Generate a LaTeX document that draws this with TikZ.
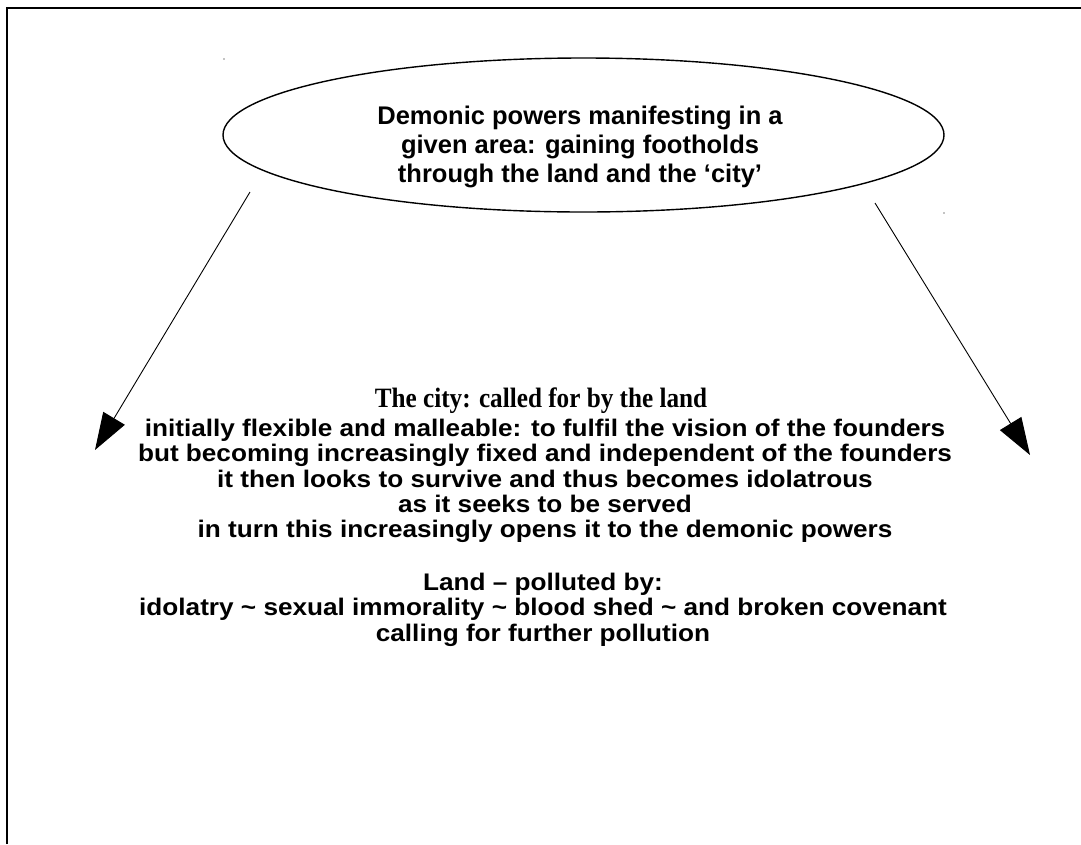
\documentclass[tikz,border=0pt]{standalone}
\usepackage{fontspec}
\setmainfont{Liberation Sans}
\newfontfamily\serifbold[FakeStretch=0.9]{Liberation Serif}
\newfontfamily\widesans[FakeStretch=1.09]{Liberation Sans}
\usetikzlibrary{arrows.meta,shapes.geometric}
\newcommand\tightskip{\lineskiplimit=-30pt\relax}
\tikzset{
  frame/.style={line width=2pt},
  bubble/.style={draw, ellipse, line width=1.4pt, minimum width=721pt, minimum height=154pt, inner sep=0pt},
  bubbletext/.style={align=center, font={\fontsize{25.5}{29}\selectfont\bfseries\tightskip}, inner sep=0pt},
  bodytext/.style={align=center, font={\widesans\fontsize{24}{25.3}\selectfont\bfseries\tightskip}, inner sep=0pt},
  titletext/.style={font={\serifbold\fontsize{28}{30}\selectfont\bfseries}, inner sep=0pt},
  link/.style={line width=0.9pt, -{Triangle[length=37pt,width=25pt]}},
  speck/.style={fill=black, circle, inner sep=0pt, minimum size=1.3pt}
}
\begin{document}
\begin{tikzpicture}[x=1pt,y=-1pt]
\useasboundingbox (0,0) rectangle (1081,844);
\fill[white] (0,0) rectangle (1081,844);
\coordinate (fbl) at (7,844);
\coordinate (ftl) at (7,8);
\coordinate (ftr) at (1081,8);
\draw[frame] (fbl) -- (ftl) -- (ftr);

\node[bubble] (demon) at (583.5,135) {};
\node[bubbletext, anchor=north] (demontext) at (580,106) {Demonic powers manifesting in a\\given area: gaining footholds\\through the land and the ‘city’};

\coordinate (ls) at (250,192);
\coordinate (lt) at (95,450);
\coordinate (rs) at (875,203);
\coordinate (rt) at (1030,455);
\draw[link] (ls) -- (lt);
\draw[link] (rs) -- (rt);

\node[titletext, anchor=base] (citytitle) at (541,407) {The city: called for by the land};
\node[bodytext, anchor=north] (citybody) at (545,419) {initially flexible and malleable: to fulfil the vision of the founders\\but becoming increasingly fixed and independent of the founders\\it then looks to survive and thus becomes idolatrous\\as it seeks to be served\\in turn this increasingly opens it to the demonic powers};

\node[bodytext, anchor=north] (land) at (543,573) {Land – polluted by:\\idolatry \textasciitilde{} sexual immorality \textasciitilde{} blood shed \textasciitilde{} and broken covenant\\calling for further pollution};

\node[speck] (s1) at (224,59) {};
\node[speck] (s2) at (944,213) {};
\end{tikzpicture}
\end{document}
